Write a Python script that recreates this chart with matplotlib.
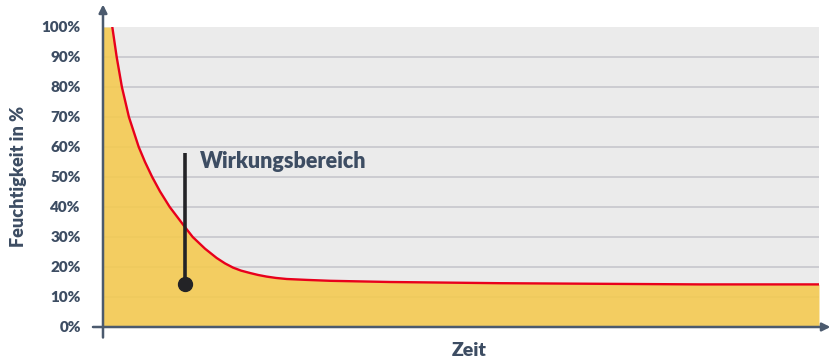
import numpy as np
import matplotlib.pyplot as plt

# Feuchtigkeitsverlauf über die Zeit
zeit = [1.3, 1.91, 2.64, 3.62, 4.99, 5.87, 6.87, 7.96, 9.32, 11.45, 12.53,
        14.25, 15.88, 17.04, 18.16, 19.27, 20.53, 21.65, 22.86, 24.16, 25.66,
        28.45, 31.7, 40.08, 55.45, 69.41, 83.38, 100]
feuchte = [100, 90, 80, 70, 60, 55, 50, 45.2, 40, 33.3, 30,
           26.1, 23, 21.2, 19.8, 18.8, 18.0, 17.35, 16.8, 16.35, 16.0,
           15.7, 15.4, 15.0, 14.6, 14.4, 14.2, 14.2]

# Markierung Wirkungsbereich
wirk_x = 11.45
wirk_von = 14.5
wirk_bis = 58
wirk_text = 'Wirkungsbereich'

yticks = np.arange(0, 101, 10)
ytick_labels = [f'{v}%' for v in yticks]

dunkel = '#3d4d63'
achse = '#4b5a6e'

plt.rcParams['font.family'] = ['Lato', 'DejaVu Sans']

fig = plt.figure(figsize=(8.3, 3.59), dpi=100)
ax = fig.add_axes([103 / 830, 32 / 359, 716 / 830, 300 / 359])
ax.set_facecolor('#ebebeb')

for v in yticks[1:-1]:
    ax.axhline(v, color='#c9c9cf', lw=1.3, zorder=1)

ax.fill_between([0] + zeit, [100] + feuchte, 0, color='#f4ca52', alpha=0.9,
                lw=0, zorder=2)
ax.plot(zeit, feuchte, color='#e8001c', lw=1.7, zorder=3,
        solid_joinstyle='round')

ax.plot([wirk_x, wirk_x], [wirk_von, wirk_bis], color='#232326', lw=2.6,
        zorder=4, solid_capstyle='butt')
ax.plot(wirk_x, wirk_von, 'o', color='#232326', ms=10, zorder=5)
ax.text(13.55, 55, wirk_text, color=dunkel, fontsize=15.5, fontweight='heavy',
        va='center', ha='left')

ax.set_xlim(0, 100)
ax.set_ylim(0, 100)
ax.set_xticks([])
ax.set_yticks(yticks)
ax.set_yticklabels(ytick_labels, fontsize=11, fontweight='heavy', color=dunkel)
ax.tick_params(axis='y', length=0, pad=16)
for s in ax.spines.values():
    s.set_visible(False)

# Achsen mit Pfeilspitzen
ax.annotate('', xy=(0, 1.075), xytext=(0, -0.035), xycoords='axes fraction',
            arrowprops=dict(arrowstyle='-|>', color=achse, lw=1.8,
                            mutation_scale=12, shrinkA=0, shrinkB=0))
ax.annotate('', xy=(1.016, 0), xytext=(-0.014, 0), xycoords='axes fraction',
            arrowprops=dict(arrowstyle='-|>', color=achse, lw=1.8,
                            mutation_scale=12, shrinkA=0, shrinkB=0))

fig.text(19 / 830, 1 - 176 / 359, 'Feuchtigkeit in %', rotation=90,
         fontsize=13, fontweight='heavy', color=dunkel, ha='center', va='center')
fig.text(469 / 830, 1 - 350 / 359, 'Zeit', fontsize=14, fontweight='heavy',
         color=dunkel, ha='center', va='center')

fig.savefig('out.png', dpi=100)
